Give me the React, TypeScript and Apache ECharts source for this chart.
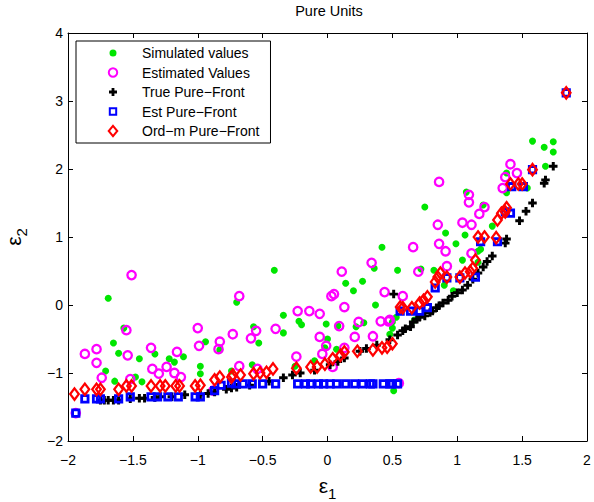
import { useEffect, useRef } from "react";
import * as echarts from "echarts";

const titleText = "Pure Units";
const seriesNames = [
  "Simulated values",
  "Estimated Values",
  "True Pure\u2212Front",
  "Est Pure\u2212Front",
  "Ord\u2212m Pure\u2212Front",
];

const simulated: number[][] = [
  [-1.69, 0.1], [-1.57, -0.34], [-1.65, -0.56], [-1.61, -0.71], [-1.45, -0.79], [-1.33, -0.72],
  [-1.71, -0.97], [-1.64, -1.12], [-1.48, -1.06], [-1.43, -1.13], [-1.22, -0.79], [-1.18, -0.84],
  [-1.11, -0.76], [-0.94, -0.54], [-0.98, -0.9], [-0.98, -1.01], [-0.83, -0.66], [-0.7, 0.04],
  [-0.74, -0.97], [-0.41, 0.51], [-0.57, -0.32], [-0.53, -0.56], [-0.58, -0.88], [-0.34, -0.15],
  [-0.22, -0.24], [-0.2, -0.29], [-0.01, -0.28], [0.08, -0.31], [0.22, -0.32], [0.28, -0.26],
  [0.37, 0.0], [-0.34, -0.41], [0.0, -0.5], [-0.02, -0.63], [-0.1, -0.82], [-0.25, -0.9],
  [0.07, -0.65], [0.48, -0.43], [0.51, -1.26], [0.5, -0.25], [0.14, 0.32], [0.2, 0.21],
  [0.27, 0.35], [0.42, 0.85], [0.36, 0.54], [0.54, 0.51], [0.99, 0.9], [1.04, 0.66],
  [0.72, 0.53], [0.82, 0.51], [1.16, 0.79], [1.16, 0.63], [0.97, 0.21], [0.9, 0.29],
  [0.53, -0.18], [0.67, -0.22], [0.5, -0.34], [1.58, 2.41], [1.67, 2.32], [1.74, 2.4],
  [1.74, 2.25], [1.68, 2.04], [1.38, 1.94], [1.54, 1.72], [1.38, 1.65], [0.75, 1.44],
  [1.07, 1.66], [1.2, 1.47], [0.91, 1.06], [1.06, 1.03], [1.27, 1.16], [1.18, 0.82],
];

const estimated: number[][] = [
  [-1.51, 0.44], [-0.68, 0.13], [-1.87, -0.72], [-1.78, -0.65], [-1.78, -0.85], [-1.74, -1.07],
  [-1.55, -0.37], [-1.54, -0.74], [-1.36, -0.63], [-1.35, -0.94], [-1.52, -1.09], [-1.3, -1.01],
  [-1.24, -0.91], [-1.18, -1.0], [-1.16, -0.69], [-1.13, -1.06], [-1.0, -0.34], [-0.99, -0.6],
  [-0.83, -0.54], [-0.84, -0.65], [-0.73, -0.43], [-1.94, -1.59], [-0.88, -1.26], [-0.59, -0.49],
  [-0.55, -0.38], [-0.68, -0.9], [-0.54, -0.94], [-0.23, -0.09], [-0.14, -0.09], [-0.06, -0.13],
  [0.03, 0.13], [0.05, 0.16], [0.13, -0.03], [0.44, 0.19], [-0.4, -0.35], [0.09, -0.31],
  [0.24, -0.25], [0.41, -0.24], [0.47, -0.24], [-0.06, -0.47], [-0.01, -0.6], [-0.04, -0.72],
  [0.21, -0.47], [0.35, -0.46], [-0.24, -0.76], [0.13, -0.63], [0.04, -0.91], [0.66, 0.85],
  [0.34, 0.62], [0.11, 0.49], [0.86, 0.9], [0.91, 0.79], [1.11, 0.76], [0.7, 0.49],
  [0.92, 0.57], [0.58, 0.13], [0.48, -0.22], [0.55, -1.15], [1.41, 2.07], [1.46, 1.94],
  [1.37, 1.88], [1.35, 1.72], [0.86, 1.81], [1.09, 1.62], [1.09, 1.51], [1.21, 1.44],
  [1.17, 1.34], [0.85, 1.18], [1.04, 1.21], [1.11, 1.18],
];

const trueFront: number[][] = [
  [-1.75, -1.4], [-1.72, -1.4], [-1.69, -1.4], [-1.65, -1.4], [-1.61, -1.4], [-1.52, -1.38],
  [-1.45, -1.37], [-1.41, -1.37], [-1.33, -1.36], [-1.29, -1.35], [-1.2, -1.35], [-1.1, -1.32],
  [-0.98, -1.32], [-0.92, -1.3], [-0.87, -1.28], [-0.78, -1.24], [-0.74, -1.22], [-0.7, -1.21],
  [-0.6, -1.18], [-0.45, -1.12], [-0.34, -1.07], [-0.27, -1.03], [-0.21, -1.0], [-0.1, -0.96],
  [0.02, -0.88], [0.08, -0.83], [0.13, -0.78], [0.25, -0.68], [0.3, -0.64], [0.38, -0.59],
  [0.48, -0.51], [0.54, -0.44], [0.58, -0.38], [0.6, -0.35], [0.64, -0.32], [0.66, -0.25],
  [0.69, -0.21], [0.71, -0.18], [0.75, -0.16], [0.79, -0.11], [0.81, -0.09], [0.84, -0.04],
  [0.86, -0.01], [0.89, 0.03], [0.93, 0.07], [0.96, 0.13], [1.0, 0.18], [1.04, 0.22],
  [1.08, 0.29], [1.12, 0.38], [1.16, 0.47], [1.2, 0.56], [1.23, 0.64], [1.27, 0.72],
  [1.37, 0.91], [1.38, 0.97], [1.48, 1.24], [1.53, 1.38], [1.58, 1.5], [1.67, 1.79],
  [1.68, 1.84], [1.74, 2.04], [0.51, 0.16],
];

const estFront: number[][] = [
  [-1.94, -1.59], [-1.87, -1.38], [-1.78, -1.38], [-1.75, -1.38], [-1.61, -1.38], [-1.52, -1.35],
  [-1.36, -1.35], [-1.31, -1.35], [-1.23, -1.35], [-1.15, -1.35], [-1.02, -1.35], [-0.98, -1.35],
  [-0.87, -1.26], [-0.82, -1.18], [-0.74, -1.15], [-0.71, -1.16], [-0.65, -1.16], [-0.58, -1.16],
  [-0.5, -1.16], [-0.4, -1.16], [-0.23, -1.16], [-0.17, -1.16], [-0.13, -1.16], [-0.07, -1.16],
  [-0.03, -1.16], [0.02, -1.16], [0.07, -1.16], [0.14, -1.16], [0.21, -1.16], [0.27, -1.16],
  [0.33, -1.16], [0.35, -1.16], [0.43, -1.16], [0.48, -1.16], [0.5, -1.16], [0.54, -1.16],
  [0.56, -0.09], [0.64, -0.09], [0.71, -0.09], [0.77, -0.04], [0.83, 0.25], [0.92, 0.4],
  [1.02, 0.4], [1.14, 0.41], [1.18, 0.93], [1.31, 0.93], [1.41, 1.35], [1.37, 1.37],
  [1.42, 1.74], [1.51, 1.74], [1.58, 1.99], [1.84, 3.12],
];

const ordFront: number[][] = [
  [-1.95, -1.31], [-1.87, -1.24], [-1.78, -1.24], [-1.75, -1.24], [-1.61, -1.24], [-1.55, -1.19],
  [-1.51, -1.19], [-1.36, -1.19], [-1.29, -1.19], [-1.25, -1.19], [-1.17, -1.19], [-1.14, -1.19],
  [-1.02, -1.19], [-0.98, -1.18], [-0.87, -1.1], [-0.83, -1.06], [-0.74, -1.06], [-0.73, -1.03],
  [-0.67, -1.03], [-0.57, -1.01], [-0.52, -1.0], [-0.47, -0.99], [-0.42, -0.94], [-0.24, -0.93],
  [-0.13, -0.91], [-0.08, -0.91], [-0.02, -0.87], [0.04, -0.79], [0.1, -0.74], [0.13, -0.69],
  [0.23, -0.68], [0.35, -0.66], [0.42, -0.63], [0.46, -0.62], [0.5, -0.57], [0.56, -0.03],
  [0.58, -0.04], [0.65, -0.04], [0.71, 0.03], [0.74, 0.07], [0.77, 0.12], [0.83, 0.34],
  [0.85, 0.41], [0.87, 0.47], [0.92, 0.41], [1.02, 0.41], [1.06, 0.47], [1.1, 0.49],
  [1.12, 0.54], [1.14, 0.66], [1.16, 1.0], [1.21, 1.0], [1.3, 0.99], [1.31, 1.25],
  [1.34, 1.35], [1.37, 1.37], [1.38, 1.43], [1.41, 1.78], [1.47, 1.78], [1.5, 1.78],
  [1.58, 1.99], [1.84, 3.12],
];

const xMin = -2, xMax = 2, xStep = 0.5;
const yMin = -2, yMax = 4, yStep = 1;

const FONT = "'Liberation Sans', Arial, Helvetica, sans-serif";
const PLUS = "path://M2.6,0H5.4V2.6H8V5.4H5.4V8H2.6V5.4H0V2.6H2.6Z";

// legend icons: a 48x12 box (set by the two leading moveTo points) with a centred mark
const LEG_DOT = "path://M0,0M48,12M27.5,6A3.5,3.5,0,1,1,20.5,6A3.5,3.5,0,1,1,27.5,6Z";
const LEG_RING = "path://M0,0M48,12M28.2,6A4.2,4.2,0,1,1,19.8,6A4.2,4.2,0,1,1,28.2,6Z";
const LEG_PLUS = "path://M0,0M48,12M22.6,2H25.4V4.6H28V7.4H25.4V10H22.6V7.4H20V4.6H22.6Z";
const LEG_SQUARE = "path://M0,0M48,12M20.8,2.8H27.2V9.2H20.8Z";
const LEG_DIAMOND = "path://M0,0M48,12M24,0.8L28.3,6L24,11.2L19.7,6Z";
const legendIcons = [LEG_DOT, LEG_RING, LEG_PLUS, LEG_SQUARE, LEG_DIAMOND];

const fmt = (v: number) => String(v).replace("-", "\u2212");

const nameRich = {
  e: { fontFamily: FONT, fontSize: 21, color: "#000", lineHeight: 26, verticalAlign: "top" },
  s: { fontFamily: FONT, fontSize: 15, color: "#000", lineHeight: 26, verticalAlign: "bottom" },
};

export default function App() {
  const ref = useRef<HTMLDivElement>(null);
  useEffect(() => {
    if (!ref.current) return;
    const chart = echarts.init(ref.current, undefined, { renderer: "svg" });
    const axisCommon = {
      axisLine: { show: true, onZero: false, lineStyle: { color: "#000", width: 1 } },
      axisTick: { show: true, inside: true, length: 5, lineStyle: { color: "#000" } },
      splitLine: { show: false },
    };
    chart.setOption({
      animation: false,
      backgroundColor: "#fff",
      title: {
        text: titleText,
        left: 324,
        top: -2,
        textAlign: "center",
        textStyle: { fontFamily: FONT, fontSize: 14.5, fontWeight: "normal", color: "#000" },
      },
      grid: { left: 68, right: 7, top: 33, bottom: 61, containLabel: false, outerBoundsMode: "none" },
      legend: {
        orient: "vertical",
        left: 76,
        top: 41,
        backgroundColor: "#fff",
        borderColor: "#000",
        borderWidth: 1,
        borderRadius: 0,
        padding: [4, 11, 4, 12],
        itemWidth: 48,
        itemHeight: 12,
        itemGap: 3.5,
        textStyle: { fontFamily: FONT, fontSize: 14, color: "#000", lineHeight: 16 },
        data: seriesNames.map((name, i) => ({ name, icon: legendIcons[i] })),
      },
      xAxis: [
        {
          type: "value",
          min: xMin,
          max: xMax,
          interval: xStep,
          position: "bottom",
          ...axisCommon,
          axisLabel: { formatter: fmt, fontFamily: FONT, fontSize: 14, color: "#000", margin: 12 },
          name: "{e|\u03b5}{s|1}",
          nameLocation: "middle",
          nameGap: 34,
          nameMoveOverlap: false,
          nameTextStyle: { rich: nameRich },
        },
        {
          type: "value",
          min: xMin,
          max: xMax,
          interval: xStep,
          position: "top",
          ...axisCommon,
          axisLabel: { show: false },
        },
      ],
      yAxis: [
        {
          type: "value",
          min: yMin,
          max: yMax,
          interval: yStep,
          position: "left",
          ...axisCommon,
          axisLabel: { formatter: fmt, fontFamily: FONT, fontSize: 14, color: "#000", margin: 5 },
          name: "{e|\u03b5}{s|2}",
          nameLocation: "middle",
          nameGap: 39,
          nameMoveOverlap: false,
          nameTextStyle: { rich: nameRich },
        },
        {
          type: "value",
          min: yMin,
          max: yMax,
          interval: yStep,
          position: "right",
          ...axisCommon,
          axisLabel: { show: false },
        },
      ],
      series: [
        {
          name: seriesNames[0],
          type: "scatter",
          data: simulated,
          symbol: "circle",
          symbolSize: 7,
          itemStyle: { color: "#00e600", opacity: 1 },
          z: 1,
        },
        {
          name: seriesNames[1],
          type: "scatter",
          data: estimated,
          symbol: "circle",
          symbolSize: 8.4,
          itemStyle: { color: "rgba(255,255,255,0)", borderColor: "#ff00ff", borderWidth: 2.3, opacity: 1 },
          z: 2,
        },
        {
          name: seriesNames[2],
          type: "scatter",
          data: trueFront,
          symbol: PLUS,
          symbolSize: 8.5,
          itemStyle: { color: "#000", opacity: 1 },
          z: 3,
        },
        {
          name: seriesNames[3],
          type: "scatter",
          data: estFront,
          symbol: "rect",
          symbolSize: 6.4,
          itemStyle: { color: "rgba(255,255,255,0)", borderColor: "#0000ff", borderWidth: 2.8, opacity: 1 },
          z: 4,
        },
        {
          name: seriesNames[4],
          type: "scatter",
          data: ordFront,
          symbol: "diamond",
          symbolSize: [8.6, 11.4],
          itemStyle: { color: "rgba(255,255,255,0)", borderColor: "#ff0000", borderWidth: 2.3, opacity: 1 },
          z: 5,
        },
      ],
    });
    return () => chart.dispose();
  }, []);
  return (
    <div
      ref={ref}
      style={{ position: "absolute", left: 0, top: 0, width: 594, height: 502 }}
    />
  );
}
